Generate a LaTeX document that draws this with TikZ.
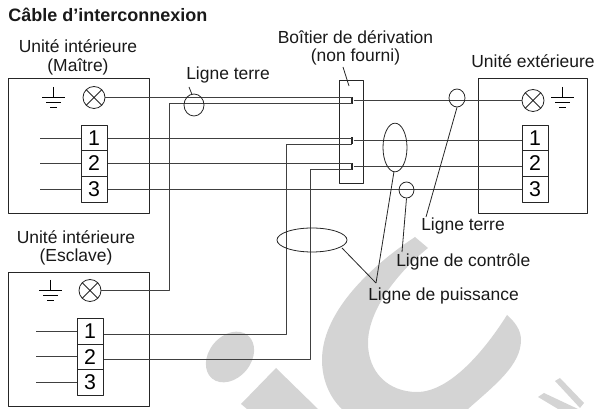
\documentclass[tikz,border=0pt]{standalone}
\usepackage{fontspec}
\setmainfont{Liberation Sans}
\usetikzlibrary{calc, positioning, shapes.geometric}
\definecolor{wmgray}{gray}{0.83}
\definecolor{wiregray}{gray}{0.25}
\tikzset{
  unitbox/.style={draw=black!85, line width=0.75pt},
  wire/.style={draw=wiregray, line width=0.75pt},
  leader/.style={draw=black!85, line width=0.6pt},
  loop/.style 2 args={draw=black!85, line width=0.6pt, ellipse, inner sep=0pt, minimum width=#1, minimum height=#2},
  label/.style={font=\fontsize{13.1}{14}\selectfont, inner sep=0pt, align=center, text=black!90},
  termbox/.style={draw=black!85, fill=white, line width=0.75pt, minimum width=19.5pt, minimum height=19.2pt, inner sep=0pt, font=\fontsize{16}{16}\selectfont},
  lamp/.style={draw=black!85, line width=0.6pt, circle, minimum size=16.5pt, inner sep=0pt, path picture={
    \draw[line width=0.6pt] (path picture bounding box.south west) -- (path picture bounding box.north east)
      (path picture bounding box.north west) -- (path picture bounding box.south east);}},
  stud/.style={fill=black!85, minimum width=2pt, minimum height=5.5pt, inner sep=0pt},
  pics/earth/.style={code={
    \draw[line width=0.6pt] (0,0) -- (0,10) (-11.5,10) -- (11.5,10) (-7.5,15) -- (7.5,15) (-3.5,20) -- (3.5,20);}}
}
\begin{document}
\begin{tikzpicture}[x=0.75pt,y=-0.75pt,line join=round]
\useasboundingbox (0,0) rectangle (601,409);

% Watermark
\begin{scope}[wmgray]
\fill[rotate around={50:(230,357)}] (230,357) ellipse (28 and 21);
\fill (276,368) -- (241,404) -- (247,409) -- (318,409) -- cycle;
\fill (415,237) .. controls (365,270) and (322,315) .. (322,360) .. controls (322,380) and (330,398) .. (342,409)
  -- (468,409) .. controls (495,385) and (521,365) .. (521,340) .. controls (521,330) and (515,322) .. (507,315)
  .. controls (485,350) and (450,392) .. (417,392) .. controls (388,392) and (368,372) .. (368,343)
  .. controls (368,310) and (398,272) .. (428,248) -- cycle;
\fill (555,381) -- (560,378) -- (584,403) -- (580,408) -- cycle;
\fill (538,397) -- (544,393) -- (578,409) -- (558,409) -- cycle;
\end{scope}

% Titles
\node[label, font=\fontsize{13.5}{14}\selectfont\bfseries, anchor=west] (title) at (8,15) {Câble d’interconnexion};
\node[label] (maitre) at (78,57.5) {Unité intérieure\\(Maître)};
\node[label] (esclave) at (76,248) {Unité intérieure\\(Esclave)};
\node[label] (boitier) at (355.5,48) {Boîtier de dérivation\\(non fourni)};
\node[label] (ext) at (533,61) {Unité extérieure};

% Units
\draw[unitbox] (8.5,78.5) rectangle (149.5,213.5);
\draw[unitbox] (8.5,272.5) rectangle (149.5,406.5);
\draw[unitbox] (478.5,78.5) rectangle (587.5,213.5);
\draw[unitbox] (339.5,80.5) rectangle (363.5,183.5);

% Lamps and earths
\node[lamp] (lampM) at (94,97.5) {};
\node[lamp] (lampS) at (90,290.5) {};
\node[lamp] (lampE) at (533,100.5) {};
\pic at (53.5,87) {earth};
\pic at (50.5,280) {earth};
\pic at (562.5,87) {earth};

% Studs
\node[stud] (j0) at (352,100.5) {};
\node[stud] (j1) at (352,140.5) {};
\node[stud] (j2) at (352,166.5) {};

% Bends
\coordinate (bendS) at (169.5,290.5);
\coordinate (topS) at (169.5,103.5);
\coordinate (bend1) at (286.5,334.5);
\coordinate (top1) at (286.5,144.5);
\coordinate (bend2) at (310.5,359.5);
\coordinate (top2) at (310.5,169.5);

% Wires
\draw[wire] (lampM) -- (j0 |- lampM);
\draw[wire] (lampS) -- (bendS) -- (topS) -- (j0 |- topS);
\draw[wire] (j0) -- (lampE);
\draw[wire] (94,138.5) -- (j1 |- 94,138.5);
\draw[wire] (94,163.5) -- (j2 |- 94,163.5);
\draw[wire] (94,189.5) -- (535,189.5);
\draw[wire] (j1) -- (535,140.5);
\draw[wire] (j2) -- (535,166.5);
\draw[wire] (90,334.5) -- (bend1) -- (top1) -- (j1 |- top1);
\draw[wire] (90,359.5) -- (bend2) -- (top2) -- (j2 |- top2);

% Terminals
\foreach \n/\y in {1/138.5,2/163.5,3/189.5} {
  \draw[wire] (40,\y) -- (94,\y);
  \node[termbox] (m\n) at (94,\y) {\n};
  \node[termbox] (e\n) at (535,\y) {\n};
}
\foreach \n/\y in {1/331.5,2/357,3/382.5} {
  \draw[wire] (36,\y) -- (90,\y);
  \node[termbox] (s\n) at (90,\y) {\n};
}

% Loops
\node[loop={15pt}{16.5pt}] (lpTerreM) at (194,105) {};
\node[loop={12pt}{13.5pt}] (lpTerreE) at (457,98) {};
\node[loop={11.2pt}{12pt}] (lpCtrl) at (406.5,190) {};
\node[loop={18pt}{36.5pt}] (lpPuis) at (395,147.5) {};
\node[loop={52.5pt}{18pt}] (lpPuisB) at (312,240) {};

% Labels
\node[label, anchor=west] (ligneM) at (186,75) {Ligne terre};
\node[label, anchor=west] (ligneE) at (421,226) {Ligne terre};
\node[label, anchor=west] (ligneC) at (396,262) {Ligne de contrôle};
\node[label, anchor=west] (ligneP) at (368,296) {Ligne de puissance};

% Leaders
\coordinate (pj) at (376,283);
\draw[leader] (189,87) -- (192,94.5);
\draw[leader] (lpTerreE.south) -- (426,217);
\draw[leader] (lpCtrl.south) -- (402,252);
\draw[leader] (394,171.5) -- (pj);
\draw[leader] (342,248) -- (pj);
\draw[leader] (343,67) -- (349,86);
\end{tikzpicture}
\end{document}
